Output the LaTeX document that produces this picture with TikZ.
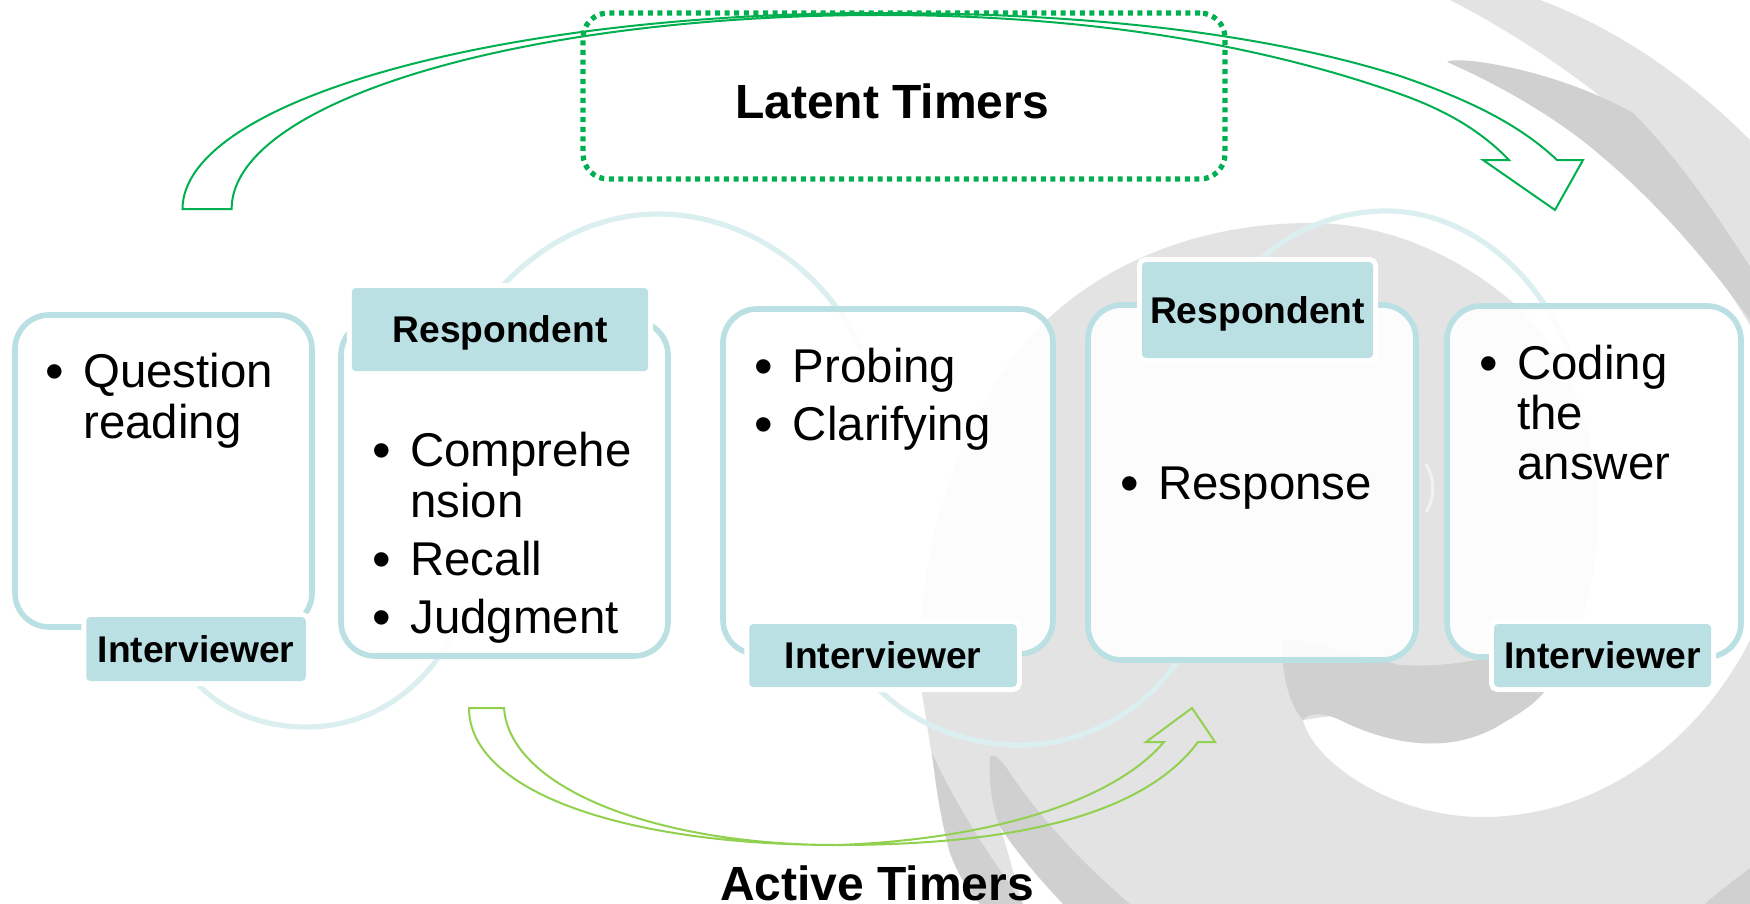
\documentclass[tikz,border=0pt]{standalone}
\usepackage{graphicx}
\usepackage{fontspec}
\setmainfont{Liberation Sans}
\definecolor{wmlight}{HTML}{E3E3E3}
\definecolor{wmdark}{HTML}{D0D0D0}
\definecolor{teal1}{HTML}{BBE0E3}
\definecolor{arcc}{HTML}{DCEFF0}
\definecolor{gr1}{HTML}{00B050}
\definecolor{gr2}{HTML}{92D050}
\newcommand{\bul}{\llap{\raisebox{-1pt}{\scalebox{1.12}{\textbullet}}\hspace{9.9pt}}}
\newcommand{\lst}[1]{\begin{tabular}[t]{@{}l@{}}#1\end{tabular}}
\tikzset{
  bodytxt/.style={anchor=base west,inner sep=0pt,font=\fontsize{23.7}{25.5}\selectfont},
  tbox/.style={draw=teal1,line width=2.8pt,fill=white,fill opacity=.9,rounded corners=17pt,inner sep=0pt},
  lab/.style={preaction={draw=white,line width=5pt},fill=teal1,rounded corners=2pt,inner sep=0pt,
    font=\fontsize{18.6}{20}\selectfont\bfseries,text height=13.4pt,text depth=0pt},
  bigtitle/.style={inner sep=0pt,font=\fontsize{24}{26}\selectfont\bfseries},
  arcline/.style={draw=arcc,line width=2.6pt},
  arrowA/.style={draw=gr1,line width=1pt,line join=miter},
  arrowB/.style={draw=gr2,line width=1pt,line join=miter},
  latent/.style={draw=gr1,line width=2.6pt,dash pattern=on 2.5pt off 2.3pt,rounded corners=12.5pt,inner sep=0pt}
}
\begin{document}
\begin{tikzpicture}[x=0.5pt,y=-0.5pt]
\useasboundingbox (0,0) rectangle (1750,904);
\fill[white] (0,0) rectangle (1750,904);
% watermark: upper band
\fill[wmlight] (1450,0) .. controls (1500,25) and (1570,70) .. (1613,107)
  -- (1750,325) -- (1750,140) .. controls (1690,80) and (1620,30) .. (1540,0) -- cycle;
\fill[wmdark] (1447,62) .. controls (1455,57) and (1500,63) .. (1547,77)
  .. controls (1580,87) and (1610,100) .. (1633,113)
  .. controls (1680,160) and (1720,220) .. (1750,267) -- (1750,320)
  .. controls (1710,265) and (1660,205) .. (1600,155)
  .. controls (1560,120) and (1500,85) .. (1447,62) -- cycle;
% watermark: dome
\fill[wmlight] (922,693) .. controls (910,560) and (960,400) .. (1050,317)
  .. controls (1110,262) and (1200,223) .. (1311,223)
  .. controls (1380,223) and (1450,250) .. (1510,300)
  .. controls (1570,350) and (1600,440) .. (1598,520)
  .. controls (1597,590) and (1575,650) .. (1550,685)
  -- (1303,720)
  .. controls (1312,760) and (1390,817) .. (1483,817)
  .. controls (1600,817) and (1700,740) .. (1750,640)
  -- (1750,904) -- (980,904) -- (950,853) -- (932,757) -- cycle;
% dark blob
\fill[wmdark] (1282,640) .. controls (1282,680) and (1290,705) .. (1303,720)
  .. controls (1310,712) and (1325,713) .. (1340,720)
  .. controls (1390,745) and (1450,755) .. (1500,725)
  .. controls (1520,713) and (1535,705) .. (1550,685)
  -- (1565,630) .. controls (1510,658) and (1450,668) .. (1400,665)
  -- (1300,640) -- cycle;
% lower strips
\fill[white] (1000,827) .. controls (1020,850) and (1045,880) .. (1063,904) -- (1023,904)
  .. controls (1015,880) and (1008,850) .. (1000,827) -- cycle;
\fill[wmdark] (932,753) .. controls (936,790) and (942,825) .. (950,853)
  .. controls (958,875) and (968,890) .. (980,904) -- (1023,904)
  .. controls (1000,870) and (960,815) .. (932,753) -- cycle;
\fill[wmdark] (990,757) .. controls (988,790) and (995,815) .. (1000,827)
  .. controls (1015,850) and (1040,880) .. (1063,904) -- (1130,904)
  .. controls (1090,870) and (1045,825) .. (1010,773) .. controls (1003,762) and (994,752) .. (990,757) -- cycle;
\fill[wmdark] (1705,904) .. controls (1720,890) and (1735,880) .. (1750,868) -- (1750,904) -- cycle;
\draw[white,line width=1.5pt,opacity=.55] (1426,464) .. controls (1435,480) and (1435,498) .. (1426,512);
% arc connectors
\coordinate (arcA1) at (186,670);
\coordinate (arcA2) at (455,630);
\coordinate (arcB1) at (490,300);
\coordinate (arcB2) at (862,350);
\coordinate (arcC1) at (870,680);
\coordinate (arcC2) at (1190,640);
\coordinate (arcD1) at (1250,270);
\coordinate (arcD2) at (1572,360);
\draw[arcline] (arcA1) .. controls (215,710) and (260,727) .. (307,727) .. controls (370,727) and (425,690) .. (arcA2);
\draw[arcline] (arcB1) .. controls (535,245) and (595,214) .. (658,214) .. controls (745,214) and (825,270) .. (arcB2);
\draw[arcline] (arcC1) .. controls (905,720) and (960,745) .. (1020,745) .. controls (1095,745) and (1160,700) .. (arcC2);
\draw[arcline] (arcD1) .. controls (1285,232) and (1335,211) .. (1386,211) .. controls (1465,211) and (1540,270) .. (arcD2);
% boxes
\node[tbox,minimum width=148.5pt,minimum height=156pt] (box1) at (163.5,471) {};
\node[tbox,minimum width=163.5pt,minimum height=167.5pt] (box2) at (504.5,488.5) {};
\node[tbox,minimum width=165pt,minimum height=172.5pt] (box3) at (888,481.5) {};
\node[tbox,minimum width=164pt,minimum height=177.5pt] (box4) at (1252,482.5) {};
\node[tbox,minimum width=147pt,minimum height=175.5pt] (box5) at (1594,481.5) {};
% labels
\node[lab,minimum width=109.75pt,minimum height=32pt] (lab1) at (196,649) {Interviewer};
\node[lab,minimum width=148.2pt,minimum height=41.5pt] (lab2) at (500,329.5) {Respondent};
\node[lab,minimum width=133.75pt,minimum height=31.5pt] (lab3) at (883,655.5) {Interviewer};
\node[lab,minimum width=115.5pt,minimum height=48pt] (lab4) at (1257.5,310) {Respondent};
\node[lab,minimum width=108.5pt,minimum height=31.5pt] (lab5) at (1602.5,655.5) {Interviewer};
% body text
\node[bodytxt] (t1) at (83,387) {\lst{\bul Question\\reading}};
\node[bodytxt] (t2) at (410,466) {\lst{\bul Comprehe\\nsion\\[3.5pt]\bul Recall\\[3.5pt]\bul Judgment}};
\node[bodytxt] (t3) at (792.5,382) {\lst{\bul Probing\\[3.5pt]\bul Clarifying}};
\node[bodytxt] (t4) at (1158,499) {\lst{\bul Response}};
\node[bodytxt] (t5) at (1517,379) {\lst{\bul Coding\\[-.5pt]the\\[-.5pt]answer}};
% latent box + arrows
\node[latent,minimum width=321pt,minimum height=83pt] (lat) at (904,96) {};
\node[bigtitle] (latt) at (892,101) {Latent Timers};
\node[bigtitle,anchor=base] (act) at (877,900) {Active Timers};
\draw[arrowA] (182.5,209) .. controls (183,101) and (497,13) .. (880,13)
  .. controls (1110,13) and (1280,38) .. (1400,76) .. controls (1470,100) and (1520,125) .. (1557,160)
  -- (1583,160) -- (1555,210) -- (1483,160) -- (1509,160)
  .. controls (1480,130) and (1445,110) .. (1400,94) .. controls (1270,48) and (1100,15) .. (880,15)
  .. controls (520,15) and (232,102) .. (231.6,209) -- cycle;
\draw[arrowB] (469,708) .. controls (469,790) and (620,845) .. (837,845)
  .. controls (1000,845) and (1140,820) .. (1198,742)
  -- (1215,742) -- (1192,708) -- (1146,742) -- (1164,742)
  .. controls (1110,805) and (980,840) .. (837,845)
  .. controls (660,845) and (510,790) .. (504,708) -- cycle;
\end{tikzpicture}
\end{document}
